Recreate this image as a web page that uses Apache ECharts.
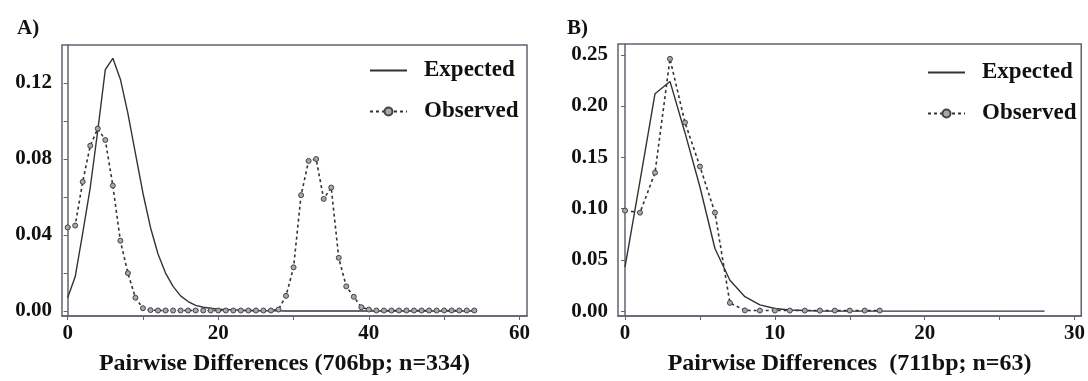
<!DOCTYPE html>
<html>
<head>
<meta charset="utf-8">
<script src="https://cdn.jsdelivr.net/npm/echarts@6/dist/echarts.min.js"></script>
<style>
  html, body { margin: 0; padding: 0; background: #fff; }
  #chart { width: 1088px; height: 381px; }
</style>
</head>
<body>
<div id="chart"></div>
<script>
// Panel A: mismatch distribution, 706bp, n=334
const xA = [0,1,2,3,4,5,6,7,8,9,10,11,12,13,14,15,16,17,18,19,20,21,22,23,24,25,26,27,28,29,30,31,32,33,34,35,36,37,38,39,40,41,42,43,44,45,46,47,48,49,50,51,52,53,54]
const expectedA = [0.007,0.018,0.041,0.065,0.095,0.127,0.133,0.122,0.104,0.083,0.062,0.044,0.030,0.020,0.013,0.008,0.005,0.003,0.002,0.0015,0.001,0.0008,0.0006,0.0004,0.0003,0.0002,0.0002,0.0001,0.0001,0,0,0,0,0,0,0,0,0,0,0,0,0,0,0,0,0,0,0,0,0,0,0,0,0,0]
const observedA = [0.044,0.045,0.068,0.087,0.096,0.090,0.066,0.037,0.020,0.007,0.0015,0.0005,0.0003,0.0003,0.0003,0.0003,0.0003,0.0003,0.0003,0.0003,0.0003,0.0003,0.0003,0.0003,0.0003,0.0003,0.0003,0.0003,0.0008,0.008,0.023,0.061,0.079,0.080,0.059,0.065,0.028,0.013,0.0075,0.002,0.0008,0.0003,0.0003,0.0003,0.0003,0.0003,0.0003,0.0003,0.0003,0.0003,0.0003,0.0003,0.0003,0.0003,0.0003]
const yTicksA = [0,0.02,0.04,0.06,0.08,0.10,0.12]
const yLabelsA = [0,0.04,0.08,0.12]
const xTicksA = [0,10,20,30,40,50,60]
const xLabelsA = [0,20,40,60]

// Panel B: 711bp, n=63
const xExpB = [0,1,2,3,4,5,6,7,8,9,10,11,12,13,14,15,16,17,18,19,20,21,22,23,24,25,26,27,28]
const expectedB = [0.043,0.127,0.212,0.224,0.174,0.121,0.061,0.030,0.014,0.006,0.0025,0.001,0.0005,0,0,0,0,0,0,0,0,0,0,0,0,0,0,0,0]
const xObsB = [0,1,2,3,4,5,6,7,8,9,10,11,12,13,14,15,16,17]
const observedB = [0.098,0.096,0.135,0.246,0.184,0.141,0.096,0.008,0.0007,0.0005,0.0005,0.0005,0.0005,0.0005,0.0005,0.0005,0.0005,0.0005]
const yTicksB = [0,0.05,0.10,0.15,0.20,0.25]
const xTicksB = [0,5,10,15,20,25,30]
const xLabelsB = [0,10,20,30]

const serif = '"Liberation Serif", "DejaVu Serif", serif'
const frame = '#5f6470'
const ink = '#333'

const pairs = (xs, ys) => xs.map((x, i) => [x, ys[i]])

function xAxisFor(idx, min, max, ticks, labels, name, pad) {
  return {
    type: 'value', gridIndex: idx, min, max,
    axisLine: { onZero: false, lineStyle: { color: frame, width: 1.5 } },
    axisTick: { customValues: ticks, length: 4, lineStyle: { color: frame } },
    axisLabel: { customValues: labels, margin: 7, color: '#111', fontFamily: serif, fontWeight: 'bold', fontSize: 21 },
    splitLine: { show: false },
    name, nameLocation: 'middle', nameGap: 36,
    nameTextStyle: { color: '#111', fontFamily: serif, fontWeight: 'bold', fontSize: 24, padding: pad }
  }
}
function yAxisFor(idx, min, max, ticks, labels, fmt) {
  return {
    type: 'value', gridIndex: idx, min, max,
    axisLine: { show: true, lineStyle: { color: frame, width: 1.5 } },
    axisTick: { show: true, customValues: ticks, length: 4, lineStyle: { color: frame } },
    axisLabel: { customValues: labels, margin: 10, color: '#111', fontFamily: serif, fontWeight: 'bold', fontSize: 21, formatter: fmt },
    splitLine: { show: false }
  }
}
function legendFor(left, top) {
  return {
    // the expected curve has no markers, so hide the legend dot for it
    data: [{ name: 'Expected', itemStyle: { opacity: 0 } }, { name: 'Observed' }],
    orient: 'vertical', left, top, itemWidth: 37, itemHeight: 10, itemGap: 18,
    textStyle: { color: '#111', fontFamily: serif, fontWeight: 'bold', fontSize: 23, padding: [0, 0, 0, 12] },
    selectedMode: false
  }
}
const expStyle = { color: ink, width: 1.4, type: 'solid' }
const obsStyle = { color: ink, width: 1.6, type: [3, 3] }
const obsItem = { color: '#a8a8a8', borderColor: '#444', borderWidth: 1 }

const chart = echarts.init(document.getElementById('chart'))
chart.setOption({
  animation: false,
  backgroundColor: '#fff',
  title: [
    { text: 'A)', left: 12, top: 13, textStyle: { fontFamily: serif, fontWeight: 'bold', fontSize: 21, color: '#111' } },
    { text: 'B)', left: 562, top: 13, textStyle: { fontFamily: serif, fontWeight: 'bold', fontSize: 21, color: '#111' } }
  ],
  grid: [
    { left: 62, top: 45, width: 465, height: 278, show: true, borderColor: frame, borderWidth: 1.5 },
    { left: 618, top: 44, width: 465, height: 279, show: true, borderColor: frame, borderWidth: 1.5 }
  ],
  xAxis: [
    xAxisFor(0, -0.75, 61, xTicksA, xLabelsA, 'Pairwise Differences (706bp; n=334)', [0, 20, 0, 0]),
    xAxisFor(1, -0.47, 30.45, xTicksB, xLabelsB, 'Pairwise Differences  (711bp; n=63)', [0, 0, 0, 0])
  ],
  yAxis: [
    yAxisFor(0, -0.0026, 0.14, yTicksA, yLabelsA, (v) => v.toFixed(2)),
    yAxisFor(1, -0.0048, 0.2605, yTicksB, yTicksB, (v) => v.toFixed(2))
  ],
  legend: [legendFor(364, 54), legendFor(922, 56)],
  series: [
    { name: 'Expected', type: 'line', xAxisIndex: 0, yAxisIndex: 0, data: pairs(xA, expectedA),
      showSymbol: false, symbol: 'none', lineStyle: expStyle, itemStyle: { color: ink } },
    { name: 'Observed', type: 'line', xAxisIndex: 0, yAxisIndex: 0, data: pairs(xA, observedA),
      symbol: 'circle', symbolSize: 5, lineStyle: obsStyle, itemStyle: obsItem },
    { name: 'Expected', type: 'line', xAxisIndex: 1, yAxisIndex: 1, data: pairs(xExpB, expectedB),
      showSymbol: false, symbol: 'none', lineStyle: expStyle, itemStyle: { color: ink } },
    { name: 'Observed', type: 'line', xAxisIndex: 1, yAxisIndex: 1, data: pairs(xObsB, observedB),
      symbol: 'circle', symbolSize: 5, lineStyle: obsStyle, itemStyle: obsItem }
  ]
})
</script>
</body>
</html>
